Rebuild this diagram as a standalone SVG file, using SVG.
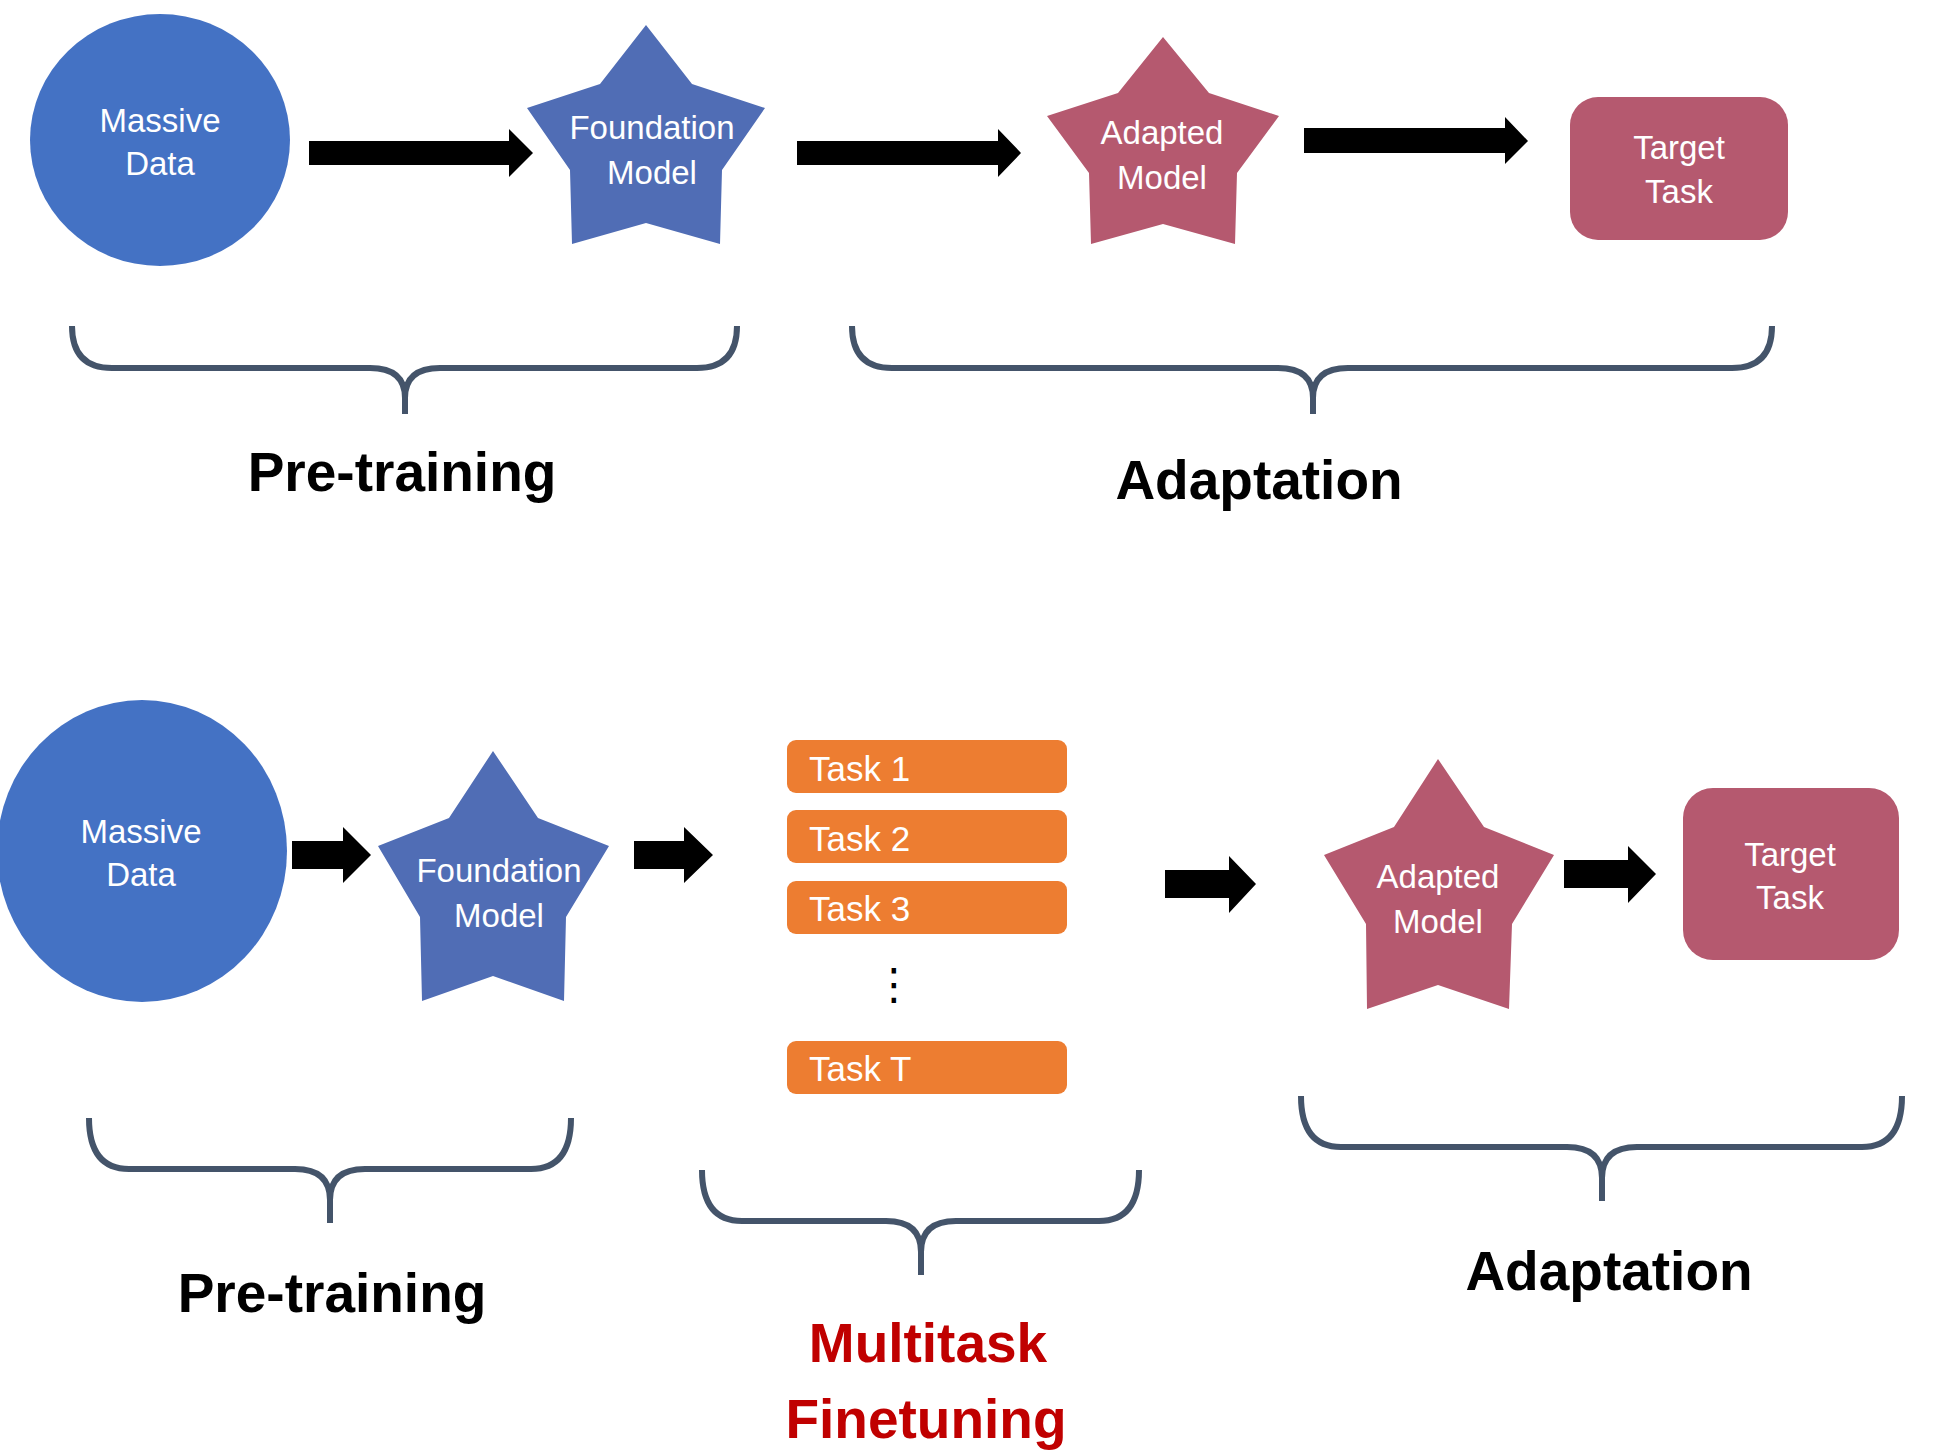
<svg xmlns="http://www.w3.org/2000/svg" width="1937" height="1453" viewBox="0 0 1937 1453">
<defs>
<style>
.lbl{font-family:"Liberation Sans",Arial,sans-serif;font-size:33px;fill:#fff;text-anchor:middle}
.task{font-family:"Liberation Sans",Arial,sans-serif;font-size:35px;fill:#fff}
.big{font-family:"Liberation Sans",Arial,sans-serif;font-size:55px;font-weight:bold;fill:#000;text-anchor:middle}
.red{fill:#C00000}
.brace{fill:none;stroke:#44546A;stroke-width:6;stroke-linejoin:round}
.arrow{fill:#000}
.blue{fill:#4472C4}
.sblue{fill:#506DB5}
.pink{fill:#B5596F}
.orange{fill:#ED7D31}
</style>
</defs>
<rect width="1937" height="1453" fill="#fff"/>

<g id="connectors">
<polygon class="arrow" points="309,141 509,141 509,129 533,153 509,177 509,165 309,165"/>
<polygon class="arrow" points="797,141 998,141 998,129 1021,153 998,177 998,165 797,165"/>
<polygon class="arrow" points="1304,128 1505,128 1505,117 1528,141 1505,164 1505,153 1304,153"/>
<polygon class="arrow" points="292,841 343,841 343,827 371,855 343,883 343,869 292,869"/>
<polygon class="arrow" points="634,841 684,841 684,827 713,855 684,883 684,869 634,869"/>
<polygon class="arrow" points="1165,870 1229,870 1229,856 1256,884 1229,913 1229,898 1165,898"/>
<polygon class="arrow" points="1564,860 1628,860 1628,846 1656,874 1628,903 1628,888 1564,888"/>
</g>

<g id="massive-data-1">
<ellipse class="blue" cx="160" cy="140" rx="130" ry="126"/>
<text class="lbl" x="160" y="132">Massive</text>
<text class="lbl" x="160" y="175">Data</text>
</g>
<g id="foundation-model-1">
<polygon class="sblue" points="646,25 692,84 765,108 722,170 720,244 646,223 572,244 570,170 527,108 600,84"/>
<text class="lbl" x="652" y="139">Foundation</text>
<text class="lbl" x="652" y="184">Model</text>
</g>
<g id="adapted-model-1">
<polygon class="pink" points="1163,37 1209,93 1279,116 1237,173 1235,244 1163,224 1091,244 1089,173 1047,116 1118,93"/>
<text class="lbl" x="1162" y="144">Adapted</text>
<text class="lbl" x="1162" y="189">Model</text>
</g>
<g id="target-task-1">
<rect class="pink" x="1570" y="97" width="218" height="143" rx="28"/>
<text class="lbl" x="1679" y="159">Target</text>
<text class="lbl" x="1679" y="203">Task</text>
</g>

<g id="massive-data-2">
<ellipse class="blue" cx="142" cy="851" rx="145" ry="151"/>
<text class="lbl" x="141" y="843">Massive</text>
<text class="lbl" x="141" y="886">Data</text>
</g>
<g id="foundation-model-2">
<polygon class="sblue" points="493,751 538,818 609,846 566,917 564,1001 493,976 422,1001 420,917 378,846 449,818"/>
<text class="lbl" x="499" y="882">Foundation</text>
<text class="lbl" x="499" y="927">Model</text>
</g>
<g id="task-1">
<rect class="orange" x="787" y="740" width="280" height="53" rx="9"/>
<text class="task" x="809" y="781">Task 1</text>
</g>
<g id="task-2">
<rect class="orange" x="787" y="810" width="280" height="53" rx="9"/>
<text class="task" x="809" y="851">Task 2</text>
</g>
<g id="task-3">
<rect class="orange" x="787" y="881" width="280" height="53" rx="9"/>
<text class="task" x="809" y="921">Task 3</text>
</g>
<g id="task-dots">
<text x="894" y="999" font-family="DejaVu Sans, sans-serif" font-size="43" text-anchor="middle" fill="#000">⋮</text>
</g>
<g id="task-t">
<rect class="orange" x="787" y="1041" width="280" height="53" rx="9"/>
<text class="task" x="809" y="1081">Task T</text>
</g>
<g id="adapted-model-2">
<polygon class="pink" points="1438,759 1484,827 1554,855 1512,924 1509,1009 1438,985 1367,1009 1366,924 1324,855 1394,827"/>
<text class="lbl" x="1438" y="888">Adapted</text>
<text class="lbl" x="1438" y="933">Model</text>
</g>
<g id="target-task-2">
<rect class="pink" x="1683" y="788" width="216" height="172" rx="30"/>
<text class="lbl" x="1790" y="866">Target</text>
<text class="lbl" x="1790" y="909">Task</text>
</g>

<g id="braces">
<path class="brace" d="M72,326 Q72,368 112,368 H370 Q405,368 405,398 V414 M405,398 Q405,368 440,368 H697 Q737,368 737,326"/>
<path class="brace" d="M852,326 Q852,368 892,368 H1278 Q1313,368 1313,398 V414 M1313,398 Q1313,368 1348,368 H1732 Q1772,368 1772,326"/>
<path class="brace" d="M89,1118 Q89,1169 129,1169 H295 Q330,1169 330,1200 V1223 M330,1200 Q330,1169 365,1169 H531 Q571,1169 571,1118"/>
<path class="brace" d="M702,1170 Q702,1221 742,1221 H886 Q921,1221 921,1252 V1275 M921,1252 Q921,1221 956,1221 H1099 Q1139,1221 1139,1170"/>
<path class="brace" d="M1301,1096 Q1301,1147 1341,1147 H1567 Q1602,1147 1602,1178 V1201 M1602,1178 Q1602,1147 1637,1147 H1862 Q1902,1147 1902,1096"/>
</g>

<g id="labels">
<text class="big" x="402" y="491">Pre-training</text>
<text class="big" x="1259" y="499">Adaptation</text>
<text class="big" x="332" y="1312">Pre-training</text>
<text class="big" x="1609" y="1290">Adaptation</text>
<text class="big red" x="928" y="1362">Multitask</text>
<text class="big red" x="926" y="1438">Finetuning</text>
</g>
</svg>
